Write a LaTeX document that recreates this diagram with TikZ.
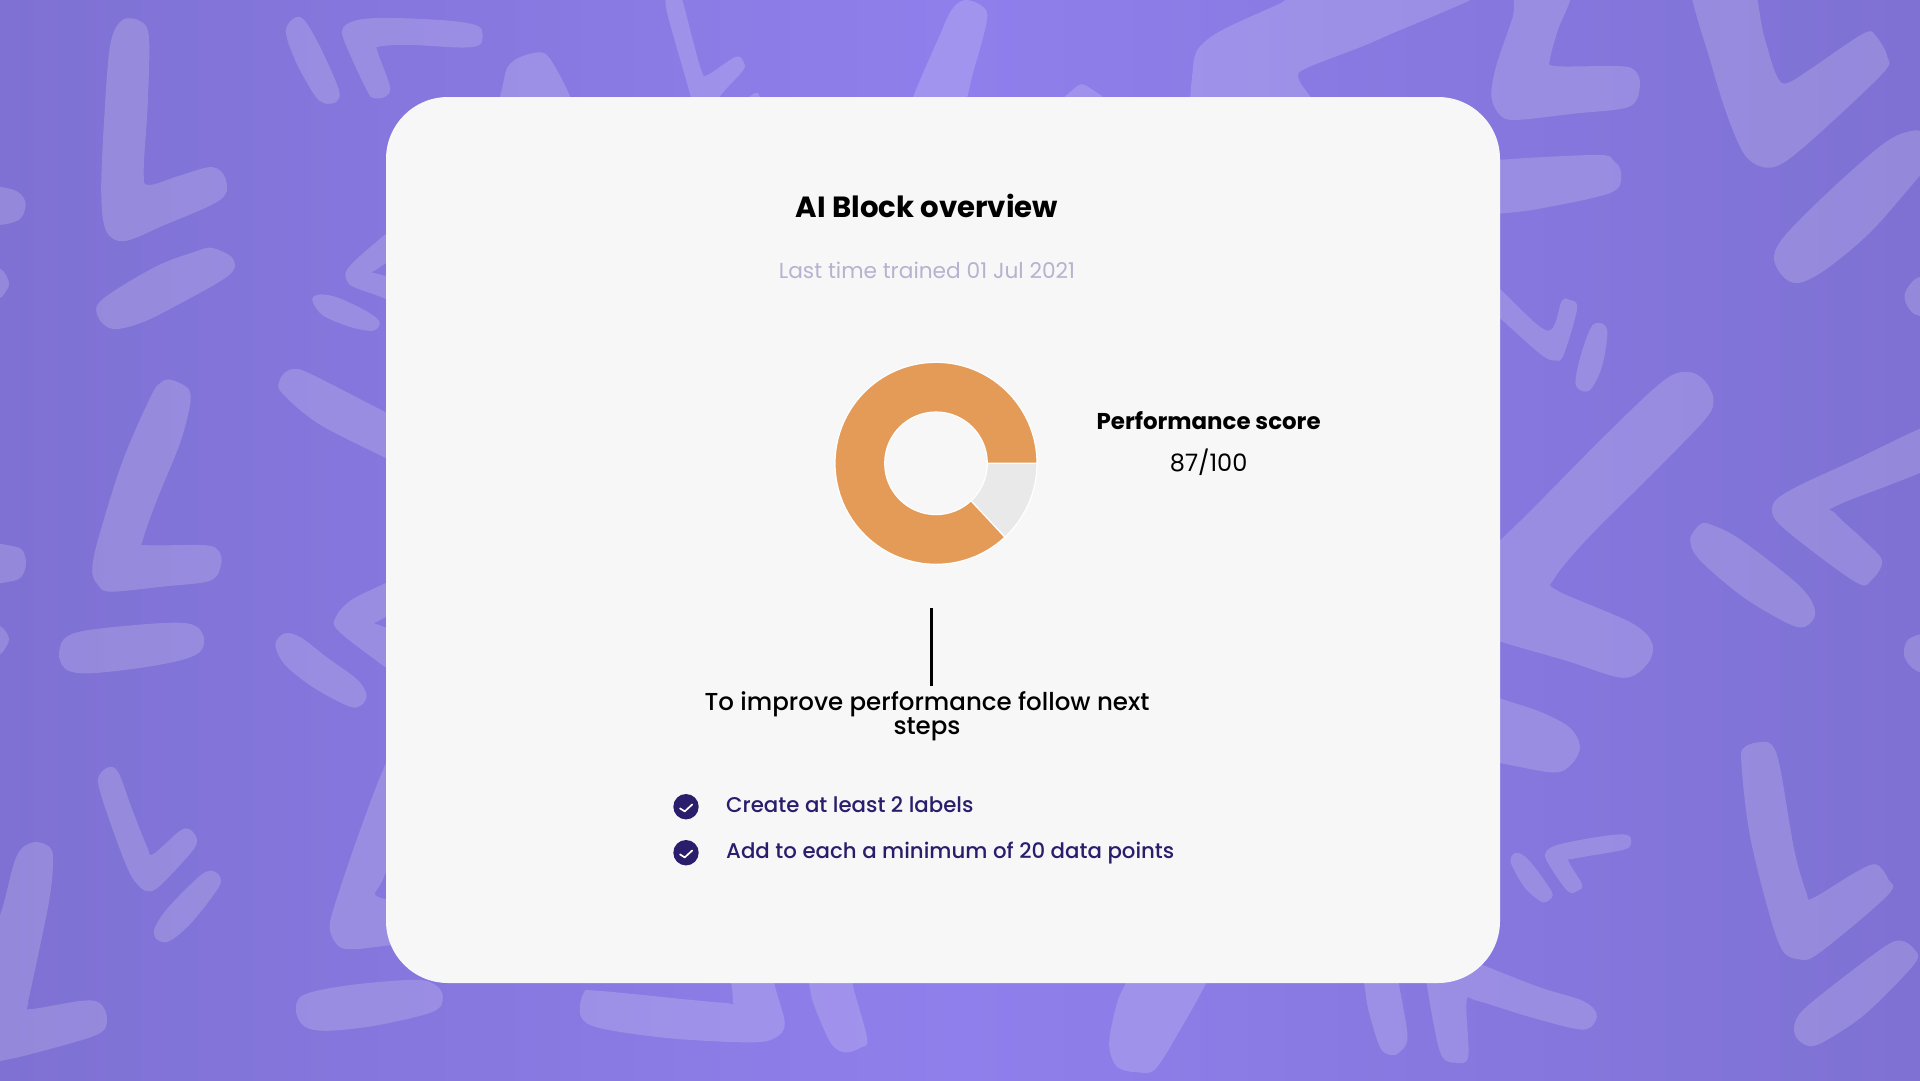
\documentclass[tikz,border=0pt]{standalone}
\usepackage{fontspec}
\setmainfont{Poppins}
\newfontfamily\medfont{Poppins Medium}
\definecolor{bgedge}{HTML}{7E71D3}
\definecolor{bgmid}{HTML}{8F7FEC}
\definecolor{cardbg}{HTML}{F7F7F8}
\definecolor{navy}{HTML}{2A1E6C}
\definecolor{mutedtext}{HTML}{B5B3CF}
\definecolor{donutorange}{HTML}{E59B58}
\definecolor{donutgrey}{HTML}{E9E9EA}
\tikzset{
  blob/.style={fill=white,fill opacity=.17,draw=none},
  sliceshape/.style={draw=white,line width=1.2pt,line join=round},
  titletext/.style={inner sep=0pt,anchor=base,font=\fontsize{29.2}{32}\selectfont\bfseries,text=black},
  subtext/.style={inner sep=0pt,anchor=base,font=\fontsize{21.7}{26}\selectfont,text=mutedtext},
  scorehead/.style={inner sep=0pt,font=\fontsize{22.9}{28}\selectfont\bfseries,text=black},
  scoreval/.style={inner sep=0pt,font=\fontsize{24}{28}\selectfont,text=black},
  leadtext/.style={inner sep=0pt,align=center,font=\fontsize{24.5}{24}\selectfont\medfont,text=black},
  itemtext/.style={inner sep=0pt,anchor=base west,font=\fontsize{21.3}{26}\selectfont\medfont,text=navy},
  checkdot/.style={circle,fill=navy,minimum size=25.4pt,inner sep=0pt},
  checkmark/.style={draw=white,line width=1.7pt,line cap=round,line join=round},
}
\newcommand{\blobshape}[1]{\path[blob] plot[smooth cycle,tension=.55] coordinates {#1};}
\begin{document}
\begin{tikzpicture}[x=1pt,y=-1pt]
\useasboundingbox[clip] (0,0) rectangle (1920,1080);
\shade[left color=bgedge,right color=bgedge,middle color=bgmid] (0,0) rectangle (1920,1080);

% top-left quadrant (with parts continuing down)
\begin{scope}[xscale=.40816,yscale=.34439]
\blobshape{(300,58)(345,62)(365,110)(362,300)(352,500)(365,537)(440,510)(520,485)(553,520)(540,580)(400,655)(305,700)(260,670)(248,560)(255,350)(270,130)}
\blobshape{(-60,545)(30,550)(62,585)(50,635)(0,653)(-60,650)}
\blobshape{(-60,775)(0,780)(22,820)(15,845)(-5,868)(-60,870)}
\blobshape{(520,720)(570,750)(560,800)(420,895)(340,940)(275,955)(240,920)(250,870)(380,775)(480,730)}
\blobshape{(725,50)(750,65)(790,150)(830,260)(825,295)(795,300)(770,275)(725,180)(700,90)}
\blobshape{(838,90)(870,60)(950,52)(1100,60)(1170,75)(1182,100)(1175,130)(1130,138)(1000,130)(930,135)(925,150)(955,250)(945,280)(915,285)(900,265)(860,165)}
\blobshape{(1320,152)(1350,175)(1400,290)(1430,420)(1225,420)(1235,230)(1260,175)}
\blobshape{(1100,540)(950,675)(855,775)(850,815)(870,835)(950,870)(1100,950)(1100,850)(925,795)(925,780)(1100,640)}
\blobshape{(765,870)(785,855)(830,865)(900,905)(930,935)(915,960)(860,950)(790,915)}
\blobshape{(690,1140)(685,1105)(700,1080)(720,1072)(760,1085)(950,1200)(1150,1320)(1150,1450)(945,1330)(780,1230)}
\blobshape{(420,1103)(462,1130)(465,1180)(440,1290)(385,1450)(350,1568)(360,1583)(500,1583)(535,1598)(542,1638)(515,1686)(400,1703)(270,1718)(240,1698)(226,1658)(240,1568)(300,1340)(370,1150)(395,1110)}
\end{scope}

% bottom-left quadrant
\begin{scope}[shift={(0,540)},xscale=.40816,yscale=.34439]
\blobshape{(-60,15)(40,20)(62,50)(60,90)(35,118)(-60,122)}
\blobshape{(-60,240)(0,250)(22,285)(15,310)(-5,335)(-60,340)}
\blobshape{(430,240)(480,250)(500,285)(490,325)(440,350)(340,372)(220,387)(165,378)(145,340)(155,290)(200,265)(320,248)}
\blobshape{(705,270)(740,285)(800,340)(875,405)(898,450)(885,480)(855,483)(770,430)(700,365)(675,310)(685,280)}
\blobshape{(1100,40)(945,125)(860,175)(822,225)(830,265)(945,370)(1100,500)(1100,320)(935,250)(935,230)(1100,130)}
\blobshape{(265,660)(290,675)(320,770)(360,890)(375,912)(440,845)(465,840)(483,870)(470,905)(400,995)(370,1020)(345,1010)(315,960)(270,820)(240,700)}
\blobshape{(515,960)(538,975)(535,1010)(470,1110)(415,1165)(385,1160)(378,1130)(410,1070)(485,980)}
\blobshape{(80,878)(120,890)(130,930)(120,1050)(80,1280)(68,1350)(78,1362)(200,1338)(245,1345)(262,1390)(240,1435)(100,1485)(10,1510)(-60,1515)(-60,1250)(0,1090)(40,920)}
\blobshape{(1030,450)(945,650)(880,850)(820,1060)(808,1130)(830,1180)(870,1188)(945,1178)(1150,1150)(1150,1060)(935,1040)(940,980)(1030,750)}
\blobshape{(1020,1277)(1070,1295)(1085,1330)(1060,1370)(920,1410)(800,1425)(745,1412)(725,1365)(745,1320)(860,1292)}
\end{scope}

% bottom strip under the card
\begin{scope}[shift={(280,960)},xscale=.8673,yscale=.33333]
\blobshape{(350,100)(370,93)(510,128)(522,115)(515,-100)(560,-100)(570,69)(582,190)(570,235)(540,247)(450,235)(370,205)(347,170)}
\blobshape{(600,-100)(650,-100)(660,69)(677,235)(670,262)(655,277)(642,268)(632,235)(615,130)(610,69)}
\blobshape{(1006,-120)(1104,-120)(1068,69)(1040,200)(1010,325)(990,337)(965,320)(956,250)(965,130)(975,69)}
\blobshape{(1240,-100)(1280,-100)(1290,69)(1300,230)(1290,278)(1280,285)(1268,260)(1255,150)(1250,69)}
\blobshape{(1310,-100)(1300,-80)(1440,70)(1500,120)(1518,160)(1512,200)(1495,207)(1440,170)(1380,122)(1368,125)(1370,290)(1355,308)(1340,290)(1330,190)}
\end{scope}

% top strip above the card
\begin{scope}[shift={(640,0)},xscale=.40816,yscale=.33333]
\blobshape{(65,30)(75,-10)(100,-10)(125,100)(150,210)(165,225)(235,170)(255,190)(250,215)(180,320)(140,500)(150,500)(130,320)}
\blobshape{(230,340)(280,280)(295,300)(300,400)(240,400)}
\blobshape{(800,0)(840,20)(850,60)(820,200)(770,380)(650,380)(740,90)(770,20)}
\blobshape{(990,380)(1060,270)(1100,262)(1200,380)(1100,500)}
\end{scope}

% top-right quadrant (with parts continuing down)
\begin{scope}[shift={(1280,0)},xscale=.40816,yscale=.34439]
\blobshape{(540,-60)(250,110)(70,195)(45,225)(75,282)(150,400)(-183,400)(-213,194)(-168,106)(0,10)(70,-30)}
\blobshape{(585,-30)(710,-30)(680,90)(662,170)(675,192)(830,192)(870,205)(882,250)(855,310)(720,330)(580,348)(540,335)(518,280)(530,190)(570,50)}
\blobshape{(400,490)(760,450)(820,470)(836,510)(810,560)(640,605)(540,620)(400,630)}
\blobshape{(1000,-100)(1140,-100)(1185,100)(1215,215)(1240,242)(1300,200)(1430,97)(1460,105)(1488,165)(1475,215)(1290,420)(1210,485)(1150,465)(1110,380)(1060,200)}
\blobshape{(1530,385)(1580,385)(1610,460)(1568,510)(1450,670)(1340,780)(1270,822)(1230,800)(1210,745)(1240,680)(1350,550)(1470,425)}
\blobshape{(1560,808)(1620,808)(1620,915)(1555,912)(1530,860)}
\blobshape{(400,680)(540,840)(655,960)(690,875)(708,870)(728,895)(695,1030)(675,1047)(640,1030)(540,925)(400,780)}
\blobshape{(780,937)(802,960)(790,1060)(765,1125)(745,1137)(724,1115)(735,1040)(760,955)}
\blobshape{(1000,1080)(1040,1105)(1062,1160)(1040,1220)(900,1390)(750,1568)(672,1680)(680,1715)(860,1808)(912,1868)(900,1928)(840,1968)(700,1918)(540,1863)(350,1790)(350,1750)(540,1568)(800,1260)(940,1105)}
\blobshape{(1640,1215)(1400,1340)(1240,1430)(1205,1480)(1240,1540)(1410,1690)(1450,1683)(1475,1628)(1430,1568)(1360,1490)(1370,1465)(1640,1330)}
\blobshape{(1005,1568)(1030,1522)(1060,1525)(1130,1568)(1270,1698)(1310,1768)(1300,1808)(1260,1818)(1140,1738)(1030,1628)}
\end{scope}

% bottom-right quadrant
\begin{scope}[shift={(1280,540)},xscale=.40816,yscale=.34439]
\blobshape{(400,400)(540,460)(640,500)(710,545)(735,600)(715,650)(670,675)(540,648)(400,620)}
\blobshape{(565,925)(580,908)(610,930)(665,1020)(660,1045)(640,1050)(600,1010)(570,950)}
\blobshape{(650,910)(680,885)(790,860)(850,856)(860,880)(840,900)(720,925)(708,935)(740,1000)(730,1018)(705,1020)(660,945)}
\blobshape{(1175,587)(1205,595)(1225,660)(1260,900)(1290,1025)(1305,1040)(1410,965)(1460,942)(1490,985)(1490,1030)(1320,1200)(1270,1217)(1230,1190)(1195,1070)(1150,850)(1130,640)(1140,600)}
\blobshape{(1520,1163)(1555,1190)(1555,1230)(1440,1370)(1350,1445)(1300,1470)(1265,1445)(1262,1400)(1300,1345)(1470,1190)}
\blobshape{(1565,275)(1620,270)(1620,385)(1560,380)(1530,340)(1535,295)}
\end{scope}

% card
\fill[cardbg,rounded corners=62pt] (386,97) rectangle (1500,983);

% donut
\coordinate (donut) at (936,463.3);
\path[sliceshape,fill=donutgrey] (donut) ++(0:101) arc[start angle=0,end angle=47,radius=101] -- ++(47:-49.7) arc[start angle=47,end angle=0,radius=51.3] -- cycle;
\path[sliceshape,fill=donutorange] (donut) ++(47:101) arc[start angle=47,end angle=360,radius=101] -- ++(0:-49.7) arc[start angle=360,end angle=47,radius=51.3] -- cycle;

% texts
\node[titletext] (title) at (927,217) {AI Block overview};
\node[subtext] (trained) at (927,278.5) {Last time trained 01 Jul 2021};
\node[scorehead] (scorelabel) at (1208.6,421) {Performance score};
\node[scoreval] (scorevalue) at (1208.6,462) {87/100};
\coordinate (ruletop) at (931,608);
\coordinate (rulebottom) at (931,686);
\draw[black,line width=3pt] (ruletop) -- (rulebottom);
\node[leadtext] (lead) at (927,716.5) {To improve performance follow next\\steps};

\node[checkdot] (dota) at (686,806.7) {};
\draw[checkmark] ([shift={(-6,1.7)}]dota.center) -- ([shift={(-1.3,4.7)}]dota.center) -- ([shift={(6.3,-2.3)}]dota.center);
\node[itemtext] (itema) at (726,812.3) {Create at least 2 labels};
\node[checkdot] (dotb) at (686,852.7) {};
\draw[checkmark] ([shift={(-6,1.7)}]dotb.center) -- ([shift={(-1.3,4.7)}]dotb.center) -- ([shift={(6.3,-2.3)}]dotb.center);
\node[itemtext] (itemb) at (726,858.3) {Add to each a minimum of 20 data points};
\end{tikzpicture}
\end{document}
